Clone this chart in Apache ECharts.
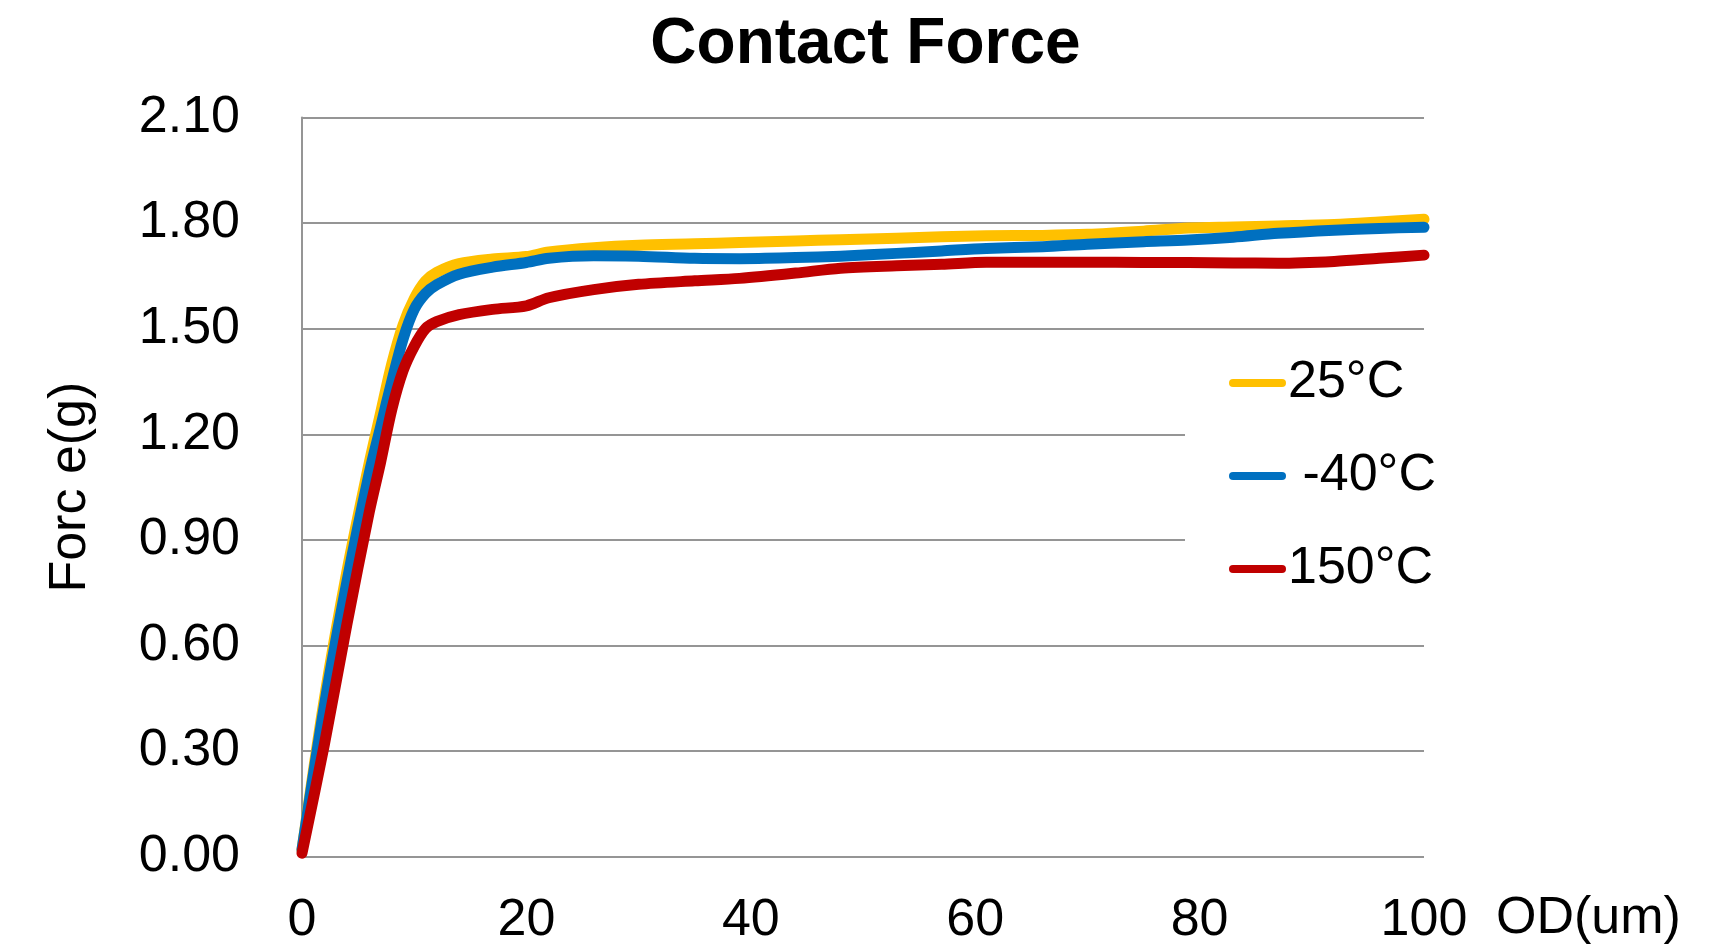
<!DOCTYPE html>
<html>
<head>
<meta charset="utf-8">
<title>Contact Force</title>
<script src="https://cdn.jsdelivr.net/npm/echarts@6/dist/echarts.min.js"></script>
<style>
  html, body { margin: 0; padding: 0; background: #ffffff; }
  #chart { width: 1731px; height: 948px; }
</style>
</head>
<body>
<div id="chart"></div>
<script>
// Overdrive (um) at which the contact force was sampled
const odValues = [0, 2, 4, 6, 7, 8, 9, 10, 11, 12, 14, 17, 20, 22, 26, 30, 35, 39, 44, 48,
                  53, 57, 61, 66, 70, 75, 79, 83, 87, 92, 96, 100];

// Contact force (g) per temperature
const force25C = [0.02, 0.45, 0.81, 1.12, 1.26, 1.40, 1.51, 1.585, 1.635, 1.66, 1.685, 1.698,
                  1.705, 1.718, 1.730, 1.737, 1.741, 1.745, 1.749, 1.753, 1.757, 1.761, 1.764,
                  1.765, 1.768, 1.777, 1.786, 1.789, 1.792, 1.796, 1.803, 1.811];
const forceMinus40C = [0.02, 0.43, 0.78, 1.09, 1.22, 1.35, 1.47, 1.555, 1.60, 1.625, 1.655, 1.675,
                       1.688, 1.700, 1.707, 1.706, 1.700, 1.699, 1.702, 1.706, 1.714, 1.721, 1.728,
                       1.733, 1.740, 1.747, 1.752, 1.760, 1.771, 1.780, 1.785, 1.788];
const force150C = [0.01, 0.32, 0.66, 0.98, 1.12, 1.27, 1.38, 1.45, 1.50, 1.52, 1.54, 1.555,
                   1.565, 1.588, 1.611, 1.626, 1.636, 1.643, 1.658, 1.672, 1.679, 1.683, 1.689,
                   1.689, 1.689, 1.688, 1.688, 1.687, 1.686, 1.691, 1.700, 1.709];

const seriesNames = ['25°C', ' -40°C', '150°C'];
const seriesColors = ['#FFC000', '#0070C0', '#C00000'];
const seriesValues = [force25C, forceMinus40C, force150C];

// Axis ranges and tick steps
const yMin = 0, yMax = 2.1, yStep = 0.3;
const xMin = 0, xMax = 100, xStep = 20;

const FONT = '"Liberation Sans", Arial, Helvetica, sans-serif';
const GRID_COLOR = '#959595';
const capsule = 'path://M4,0 H53 A4,4 0 0 1 53,8 H4 A4,4 0 0 1 4,0 Z';

const chart = echarts.init(document.getElementById('chart'), null, { renderer: 'canvas' });

const option = {
  backgroundColor: '#ffffff',
  animation: false,
  textStyle: { fontFamily: FONT },
  title: {
    text: 'Contact Force',
    left: 'center',
    top: 8,
    textStyle: { fontFamily: FONT, fontWeight: 'bold', fontSize: 64, color: '#000000', lineHeight: 64 }
  },
  grid: { left: 302, right: 307, top: 117.5, bottom: 91.3, containLabel: false, outerBoundsMode: 'none' },
  legend: {
    orient: 'vertical',
    left: 1185,
    top: 339,
    padding: [14, 20, 14, 44],
    backgroundColor: '#ffffff',
    itemWidth: 57,
    itemHeight: 8,
    itemGap: 33,
    icon: capsule,
    data: seriesNames.map((n, i) => ({ name: n, itemStyle: { color: seriesColors[i] } })),
    textStyle: { fontFamily: FONT, fontSize: 52, color: '#000000', lineHeight: 60, padding: [0, 0, 0, -3] }
  },
  xAxis: {
    type: 'value',
    min: xMin,
    max: xMax,
    interval: xStep,
    name: 'OD(um)',
    nameLocation: 'end',
    nameGap: 72,
    nameTextStyle: { fontFamily: FONT, fontSize: 52, color: '#000000', verticalAlign: 'top', padding: [36, 0, 0, 0] },
    axisLine: { show: false },
    axisTick: { show: false },
    splitLine: { show: false },
    axisLabel: { fontFamily: FONT, fontSize: 52, color: '#000000', margin: 38 }
  },
  yAxis: {
    type: 'value',
    min: yMin,
    max: yMax,
    interval: yStep,
    name: 'Forc e(g)',
    nameLocation: 'middle',
    nameGap: 205,
    nameTextStyle: { fontFamily: FONT, fontSize: 52, color: '#000000' },
    axisLine: { show: true, lineStyle: { color: GRID_COLOR, width: 2 } },
    axisTick: { show: false },
    splitLine: { show: true, lineStyle: { color: GRID_COLOR, width: 2 } },
    axisLabel: {
      fontFamily: FONT, fontSize: 52, color: '#000000', margin: 62,
      formatter: v => v.toFixed(2)
    }
  },
  series: seriesValues.map((vals, i) => ({
    name: seriesNames[i],
    type: 'line',
    data: odValues.map((x, k) => [x, vals[k]]),
    smooth: 0.3,
    showSymbol: false,
    symbol: 'none',
    clip: false,
    color: seriesColors[i],
    lineStyle: { color: seriesColors[i], width: 11, cap: 'round', join: 'round' },
    z: 2 + i
  }))
};

chart.setOption(option);
</script>
</body>
</html>
